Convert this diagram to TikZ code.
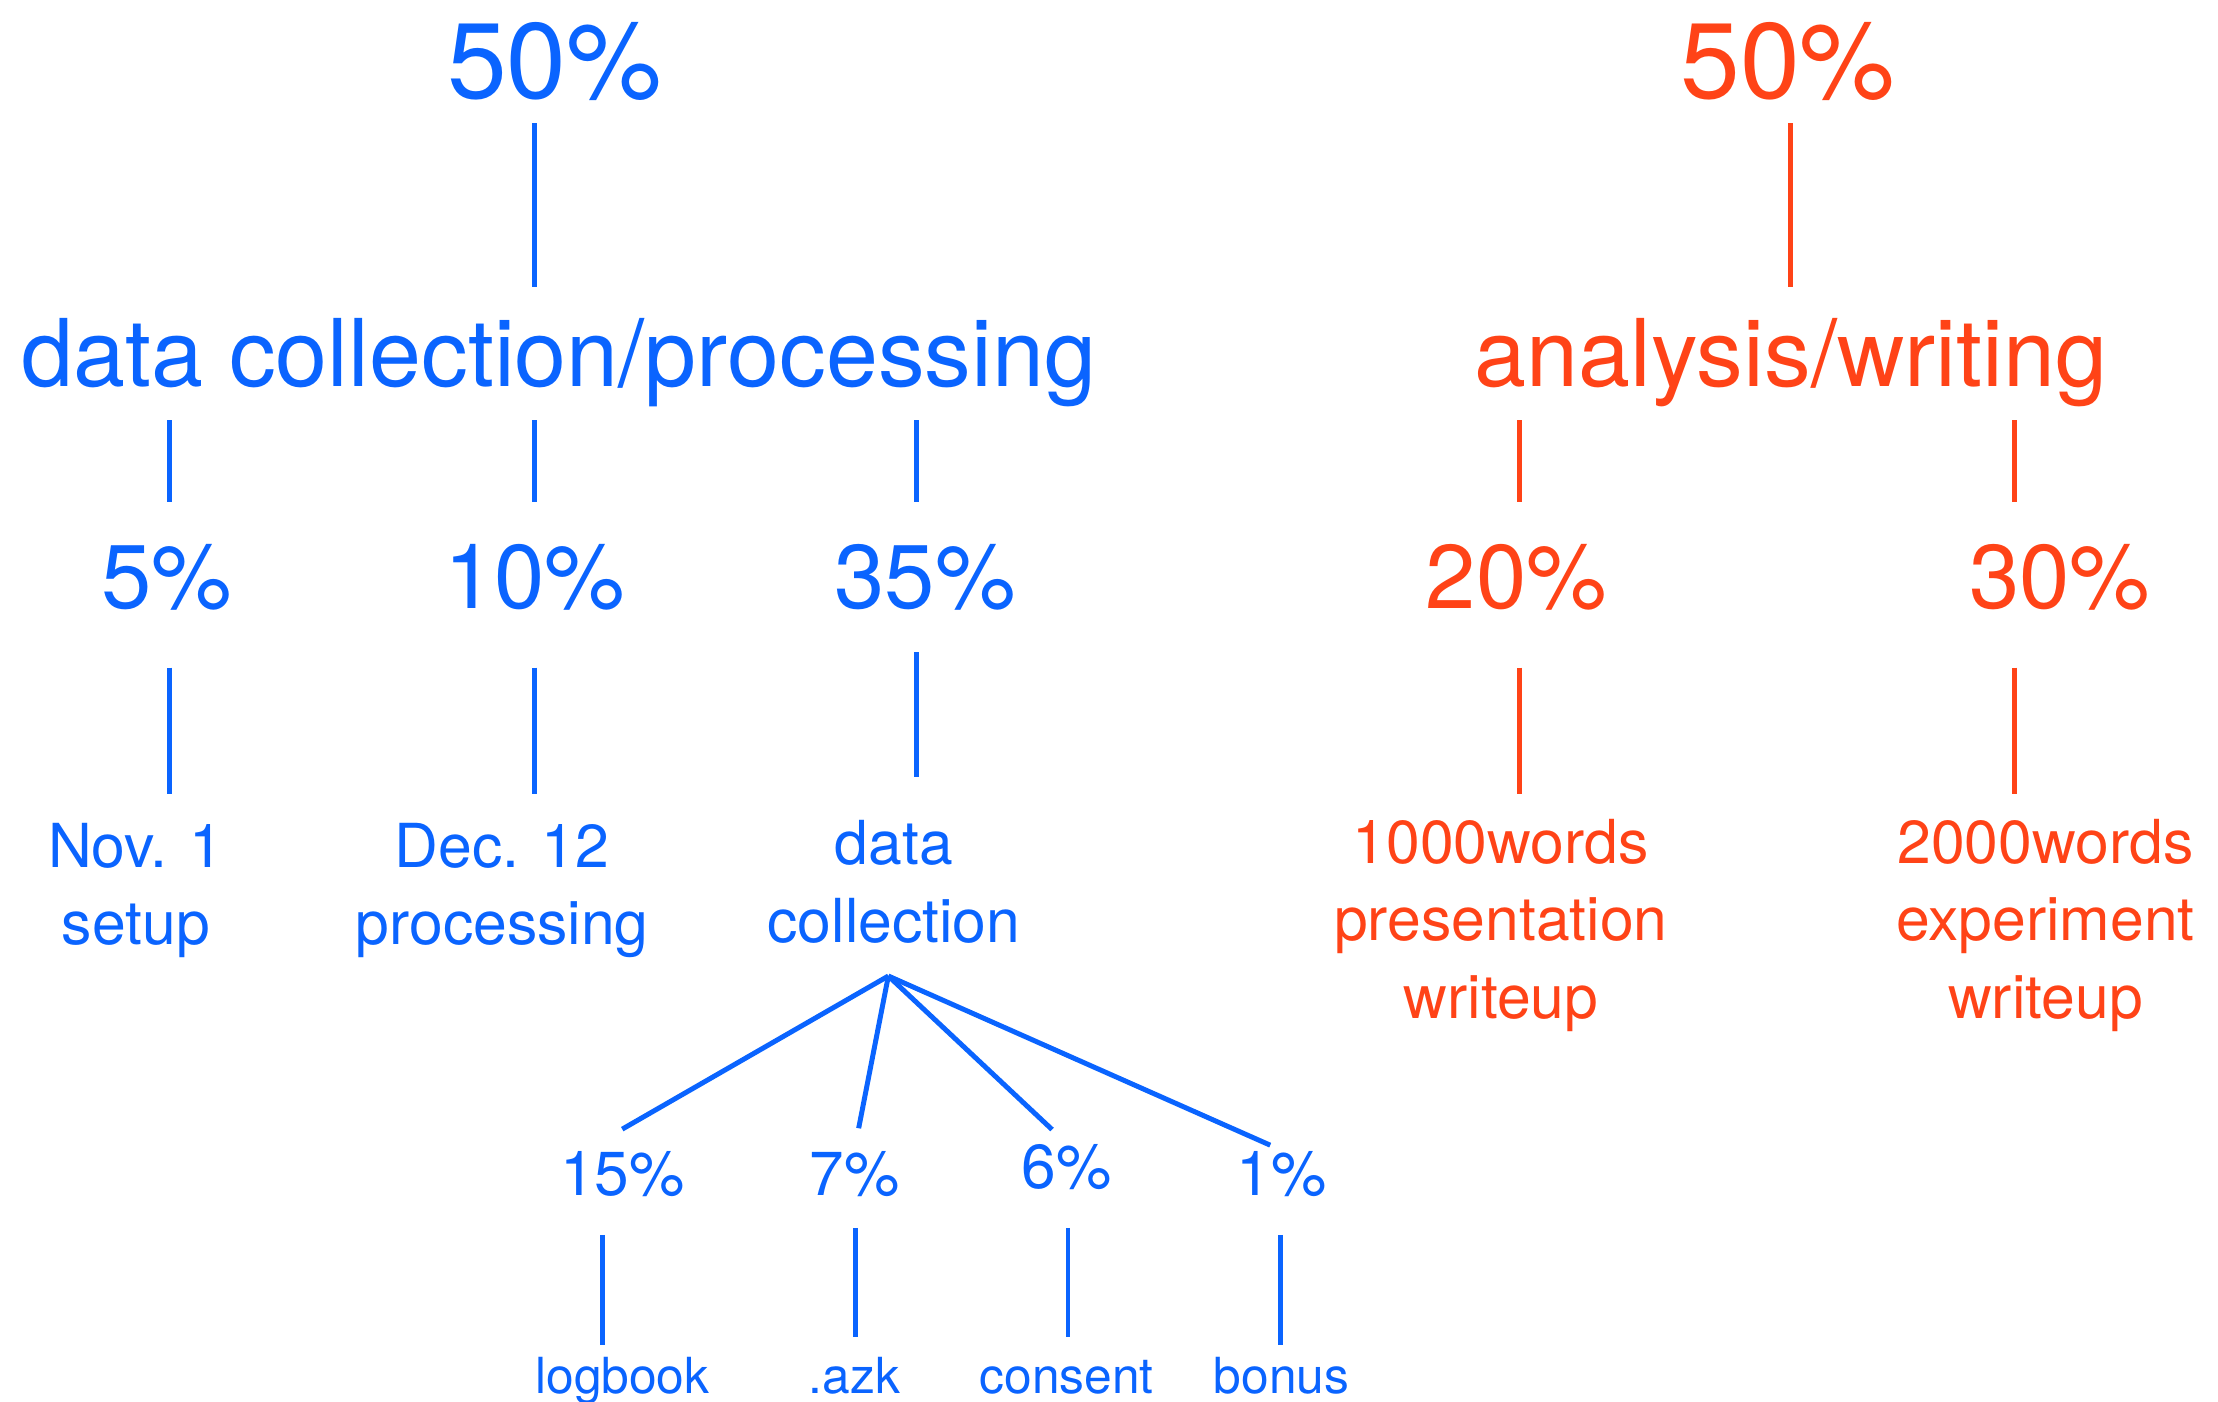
\documentclass[tikz,border=0pt]{standalone}
\usepackage{fontspec}
\setmainfont{TeX Gyre Heros}
\usepackage{xcolor}
\usetikzlibrary{calc}
\definecolor{tblue}{HTML}{0A64FF}
\definecolor{tred}{HTML}{FF4317}
\tikzset{
  txt/.style={inner sep=0pt, anchor=base, align=center},
  bigpct/.style={txt, font=\fontsize{21.6}{26}\selectfont},
  head/.style={txt, font=\fontsize{18.8}{22}\selectfont},
  pct/.style={txt, font=\fontsize{18.2}{22}\selectfont},
  lbl/.style={txt, font=\fontsize{12.2}{15.6}\selectfont},
  spct/.style={txt, font=\fontsize{12.5}{15}\selectfont},
  word/.style={txt, font=\fontsize{10}{12}\selectfont},
  link/.style={line width=1pt}
}
\begin{document}
\begin{tikzpicture}
\useasboundingbox (0,0) rectangle (15.68,9.91);

% left branch
\begin{scope}[tblue, every node/.append style={text=tblue}]
\node[bigpct] (b50) at (3.92,9.21) {50\%};
\node[head] (dcp) at (3.95,7.18) {data collection/processing};

\node[pct] (p5) at (1.18,5.61) {5\%};
\node[pct] (p10) at (3.78,5.61) {10\%};
\node[pct] (p35) at (6.54,5.61) {35\%};

% base of a multi-line node = last line
\node[lbl] (nov) at (0.96,3.23) {Nov. 1\\setup};
\node[lbl] (dec) at (3.55,3.23) {Dec. 12\\processing};
\node[lbl] (dcol) at (6.32,3.25) {data\\collection};

\coordinate (apex) at (6.28,3.01);

\node[spct] (p15) at (4.40,1.46) {15\%};
\node[spct] (p7) at (6.04,1.46) {7\%};
\node[spct] (p6) at (7.54,1.51) {6\%};
\node[spct] (p1) at (9.06,1.46) {1\%};

\node[word] (logbook) at (4.40,0.06) {logbook};
\node[word] (azk) at (6.04,0.06) {.azk};
\node[word] (consent) at (7.54,0.06) {consent};
\node[word] (bonus) at (9.06,0.06) {bonus};

% vertical links
\foreach \nm/\x/\ya/\yb in {b1/3.78/9.04/7.88, b2/1.20/6.94/6.36, b3/3.78/6.94/6.36,
    b4/6.48/6.94/6.36, b5/1.20/5.19/4.30, b6/3.78/5.19/4.30, b7/6.48/5.30/4.42,
    b8/4.26/1.18/0.40, b9/6.05/1.23/0.46, b10/7.55/1.23/0.46, b11/9.05/1.18/0.40}
{
  \coordinate (\nm-t) at (\x,\ya);
  \coordinate (\nm-b) at (\x,\yb);
  \draw[link] (\nm-t) -- (\nm-b);
}

% fan out of data collection
\draw[link, shorten >=8.5pt] (apex) -- ([xshift=-2.6mm]p15.north);
\draw[link, shorten >=4.5pt] (apex) -- (p7.north);
\draw[link, shorten >=4pt] (apex) -- (p6.north);
\draw[link, shorten >=2.5pt] (apex) -- (p1.north);
\end{scope}

% right branch
\begin{scope}[tred, every node/.append style={text=tred}]
\node[bigpct] (r50) at (12.64,9.21) {50\%};
\node[head] (aw) at (12.66,7.18) {analysis/writing};

\node[pct] (p20) at (10.72,5.61) {20\%};
\node[pct] (p30) at (14.56,5.61) {30\%};

\node[lbl] (w1000) at (10.61,2.71) {1000words\\presentation\\writeup};
\node[lbl] (w2000) at (14.46,2.71) {2000words\\experiment\\writeup};

\foreach \nm/\x/\ya/\yb in {r1/12.66/9.04/7.88, r2/10.74/6.94/6.36, r3/14.24/6.94/6.36,
    r4/10.74/5.19/4.30, r5/14.24/5.19/4.30}
{
  \coordinate (\nm-t) at (\x,\ya);
  \coordinate (\nm-b) at (\x,\yb);
  \draw[link] (\nm-t) -- (\nm-b);
}
\end{scope}
\end{tikzpicture}
\end{document}
